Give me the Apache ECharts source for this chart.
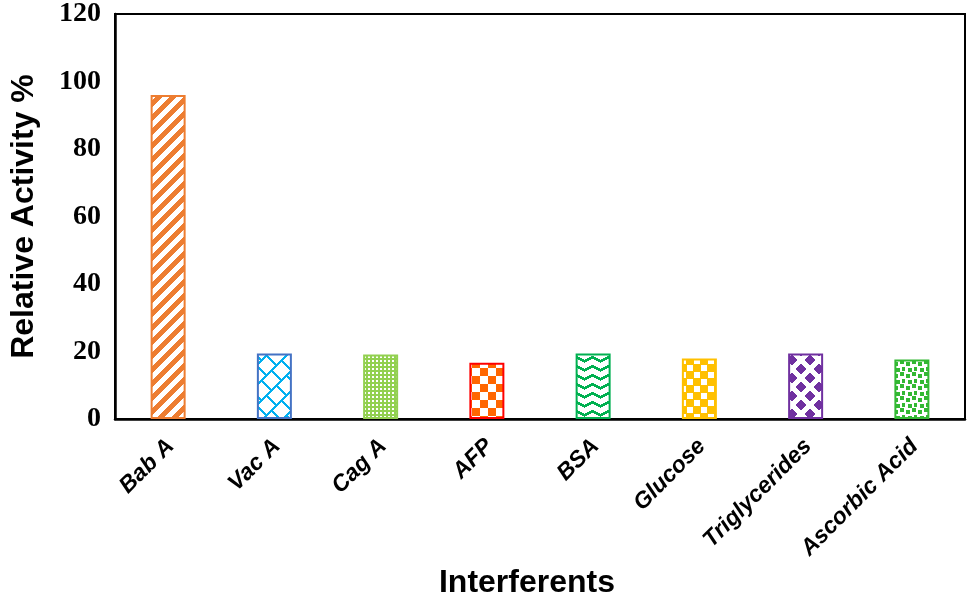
<!DOCTYPE html>
<html><head><meta charset="utf-8">
<script src="https://cdn.jsdelivr.net/npm/echarts@6/dist/echarts.min.js"></script>
<style>html,body{margin:0;padding:0;background:#fff}#c{width:969px;height:607px}</style>
</head><body><div id="c"></div>
<script>
// ---- data ----
const categories = ['Bab A', 'Vac A', 'Cag A', 'AFP', 'BSA', 'Glucose', 'Triglycerides', 'Ascorbic Acid'];
const values = [96, 19.4, 19.1, 16.7, 19.4, 17.9, 19.4, 17.6];
const yMin = 0, yMax = 120, yStep = 20;

// ---- styles ----
const fillColors = ['#ED7D31', '#00B0F0', '#92D050', '#FF6600', '#00B050', '#FFC000', '#7030A0', '#33B833'];
const borderColors = ['#ED7D31', '#4472C4', '#92D050', '#FF0000', '#00B050', '#FFC000', '#7030A0', '#33B833'];

function makePattern(w, h, bg, fg, test) {
  const c = document.createElement('canvas');
  c.width = w; c.height = h;
  const g = c.getContext('2d');
  g.fillStyle = bg; g.fillRect(0, 0, w, h);
  g.fillStyle = fg;
  for (let y = 0; y < h; y++) for (let x = 0; x < w; x++) if (test(x, y)) g.fillRect(x, y, 1, 1);
  return c;
}
const mod = (a, n) => ((a % n) + n) % n;
const patternDefs = [
  // wide upward diagonal
  c => makePattern(14, 14, '#fff', c, (x, y) => mod(x + y, 14) < 7),
  // diagonal brick / trellis
  c => makePattern(40, 40, '#fff', c, (x, y) => {
    const u = x + y, v = x - y + 80;
    if (mod(u, 20) < 3) return true;
    const off = (Math.floor(u / 20) % 2) * 10;
    return mod(v + off, 20) < 3;
  }),
  // dotted grid (white dots on colour)
  c => makePattern(4, 4, c, '#fff', (x, y) => x < 2 && y < 2),
  // checkerboard
  c => makePattern(16, 16, '#fff', c, (x, y) => (Math.floor(x / 8) + Math.floor(y / 8)) % 2 === 0),
  // zigzag
  c => makePattern(16, 9, '#fff', c, (x, y) => {
    const t = Math.round(Math.abs(mod(x, 16) - 8) / 2);
    return mod(y + t, 9) < 3;
  }),
  // shingles with white squares
  c => makePattern(14, 14, c, '#fff', (x, y) =>
    (x >= 1 && x <= 6 && y >= 1 && y <= 6) ||
    (x >= 8 && x <= 13 && y >= 8 && y <= 13)),
  // diamonds
  c => makePattern(18, 18, '#fff', c, (x, y) => {
    const centers = [[0, 0], [18, 0], [0, 18], [18, 18], [9, 9]];
    return centers.some(([cx, cy]) => Math.abs(x + 0.5 - cx) + Math.abs(y + 0.5 - cy) <= 5);
  }),
  // confetti
  c => makePattern(12, 12, '#fff', c, (x, y) =>
    (x < 4 && y < 4) || (x >= 6 && x < 10 && y >= 2 && y < 6) ||
    (x >= 2 && x < 5 && y >= 7 && y < 11) || (x >= 8 && x < 12 && y >= 8 && y < 12))
];

const seriesData = values.map((v, i) => ({
  value: v,
  itemStyle: {
    color: { image: patternDefs[i](fillColors[i]), repeat: 'repeat' },
    borderColor: borderColors[i],
    borderWidth: 2
  }
}));

const chart = echarts.init(document.getElementById('c'));
chart.setOption({
  animation: false,
  backgroundColor: '#fff',
  grid: { left: 115, right: 4, top: 14, bottom: 188, show: true, borderColor: '#000', borderWidth: 2, outerBoundsMode: 'none' },
  xAxis: {
    type: 'category',
    data: categories,
    name: 'Interferents',
    nameLocation: 'middle',
    nameGap: 145,
    nameTextStyle: { fontFamily: 'Liberation Sans', fontWeight: 'bold', fontSize: 32, color: '#000', padding: [0, 26, 0, 0] },
    axisLine: { lineStyle: { color: '#000', width: 2.5 } },
    axisTick: { show: false },
    axisLabel: {
      rotate: 45, align: 'right', verticalAlign: 'top', margin: 10, interval: 0, padding: [0, 8, 0, 0],
      fontFamily: 'Liberation Sans', fontWeight: 'bold', fontStyle: 'italic', fontSize: 23, color: '#000'
    }
  },
  yAxis: {
    type: 'value',
    min: yMin, max: yMax, interval: yStep,
    name: 'Relative Activity %',
    nameLocation: 'middle',
    nameRotate: 90,
    nameGap: 75,
    nameTextStyle: { fontFamily: 'Liberation Sans', fontWeight: 'bold', fontSize: 32, color: '#000' },
    axisLine: { show: true, lineStyle: { color: '#000', width: 2.5 } },
    axisTick: { show: false },
    splitLine: { show: false },
    axisLabel: { margin: 14, fontFamily: 'Liberation Serif', fontWeight: 'bold', fontSize: 28, color: '#000' }
  },
  series: [{
    type: 'bar',
    data: seriesData,
    barWidth: 35
  }]
});
</script>
</body></html>
